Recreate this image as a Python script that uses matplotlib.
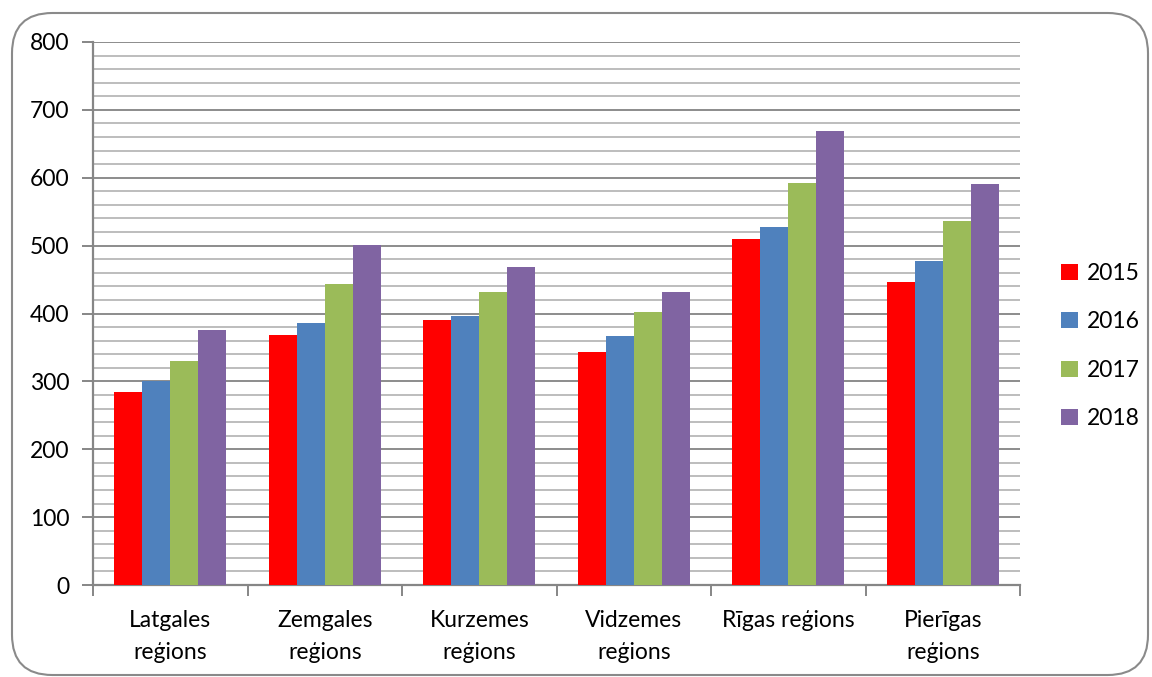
import matplotlib
matplotlib.use("Agg")
import matplotlib.pyplot as plt
import numpy as np
from matplotlib.patches import FancyBboxPatch, Patch
from matplotlib.ticker import MultipleLocator

categories = ["Latgales\nreģions", "Zemgales\nreģions", "Kurzemes\nreģions",
              "Vidzemes\nreģions", "Rīgas reģions", "Pierīgas\nreģions"]
series_names = ["2015", "2016", "2017", "2018"]
v2015 = [284, 368, 390, 344, 510, 446]
v2016 = [300, 386, 396, 367, 528, 478]
v2017 = [330, 443, 431, 402, 593, 536]
v2018 = [376, 501, 468, 431, 669, 591]
colors = ["#FF0000", "#4F81BD", "#9BBB59", "#8064A2"]
yticks = [0, 100, 200, 300, 400, 500, 600, 700, 800]

plt.rcParams['font.family'] = ['Lato', 'DejaVu Sans']
FS = 16.5

fig = plt.figure(figsize=(11.52, 6.77), dpi=100)
border = FancyBboxPatch((12/1152, 2/677), 1136/1152, 662/677,
                        boxstyle="round,pad=0,rounding_size=0.035",
                        transform=fig.transFigure, facecolor="none",
                        edgecolor="#8a8a8a", linewidth=1.5, mutation_aspect=1152/677,
                        zorder=-10)
fig.patches.append(border)

ax = fig.add_axes([93/1152, 1 - 585/677, (1020 - 93)/1152, (585 - 42)/677])
ax.set_facecolor("none")

data = [v2015, v2016, v2017, v2018]
n = len(series_names)
w = 1 / 5.5
x = np.arange(len(categories))
for i, (vals, c, name) in enumerate(zip(data, colors, series_names)):
    ax.bar(x + (i - (n - 1) / 2) * w, vals, width=w, color=c, label=name,
           edgecolor="none", zorder=3)

ax.set_xlim(-0.5, len(categories) - 0.5)
ax.set_ylim(0, 800)
ax.set_yticks(yticks)
ax.yaxis.set_minor_locator(MultipleLocator(20))
ax.grid(axis="y", which="major", color="#8c8c8c", linewidth=1.4, zorder=0)
ax.grid(axis="y", which="minor", color="#bdbdbd", linewidth=1.4, zorder=0)
ax.set_axisbelow(True)

ax.set_xticks(np.arange(-0.5, len(categories), 1))
ax.set_xticklabels([])
ax.set_xticks(x, minor=True)
ax.set_xticklabels(categories, minor=True, fontsize=FS, linespacing=1.65)
ax.tick_params(axis="x", which="major", length=8, color="#868686", width=1.4, direction="out")
ax.tick_params(axis="x", which="minor", length=0, pad=18)
ax.tick_params(axis="y", which="major", length=8, color="#868686", width=1.4,
               direction="out", labelsize=FS, pad=9)
ax.tick_params(axis="y", which="minor", length=0)

for s in ["top", "right"]:
    ax.spines[s].set_visible(False)
for s in ["left", "bottom"]:
    ax.spines[s].set_color("#868686")
    ax.spines[s].set_linewidth(1.6)

handles = [Patch(facecolor=c, edgecolor="none") for c in colors]
leg = fig.legend(handles, series_names, loc="center left",
                 bbox_to_anchor=(1050/1152, 1 - 346/677), frameon=False,
                 fontsize=FS, handlelength=0.7, handleheight=0.7,
                 handletextpad=0.4, labelspacing=1.2, borderpad=0)

fig.savefig("out.png", dpi=100)
